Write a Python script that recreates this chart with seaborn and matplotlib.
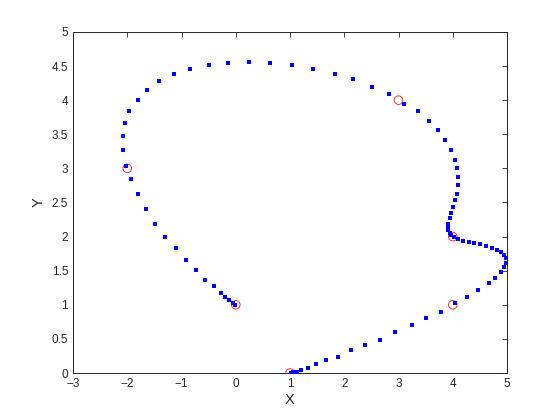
import numpy as np
import pandas as pd
import matplotlib
matplotlib.use('Agg')
import matplotlib.pyplot as plt
import seaborn as sns

# blue curve samples (from (0,1) round to (1,0))
curve_x = [-0.01, -0.06, -0.12, -0.19, -0.28, -0.41, -0.56, -0.73, -0.91, -1.10,
           -1.30, -1.48, -1.65, -1.80, -1.93, -2.02, -2.07, -2.07, -2.04, -1.96,
           -1.81, -1.63, -1.41, -1.13, -0.84, -0.49, -0.14, 0.25, 0.64, 1.04,
           1.43, 1.82, 2.17, 2.52, 2.83, 3.11, 3.35, 3.57, 3.73, 3.86,
           3.97, 4.05, 4.08, 4.10, 4.10, 4.08, 4.05, 4.01, 3.97, 3.95,
           3.92, 3.92, 3.92, 3.94, 3.97, 4.03, 4.10, 4.19, 4.29, 4.40,
           4.51, 4.62, 4.73, 4.82, 4.89, 4.95, 4.99, 4.99, 4.95, 4.89,
           4.78, 4.66, 4.47, 4.27, 4.05, 3.79, 3.51, 3.24, 2.94, 2.66,
           2.39, 2.13, 1.89, 1.67, 1.48, 1.34, 1.21, 1.13, 1.06, 1.01]
curve_y = [1.00, 1.03, 1.07, 1.11, 1.18, 1.27, 1.37, 1.51, 1.65, 1.83,
           2.00, 2.19, 2.40, 2.62, 2.84, 3.04, 3.27, 3.47, 3.66, 3.84,
           4.00, 4.15, 4.28, 4.38, 4.45, 4.51, 4.54, 4.56, 4.54, 4.51,
           4.45, 4.38, 4.31, 4.20, 4.09, 3.95, 3.84, 3.69, 3.56, 3.41,
           3.27, 3.13, 3.00, 2.87, 2.75, 2.63, 2.53, 2.43, 2.34, 2.27,
           2.19, 2.14, 2.09, 2.05, 2.02, 1.99, 1.96, 1.93, 1.92, 1.90,
           1.89, 1.86, 1.83, 1.80, 1.77, 1.73, 1.68, 1.62, 1.55, 1.48,
           1.40, 1.32, 1.21, 1.12, 1.02, 0.90, 0.80, 0.70, 0.60, 0.49,
           0.41, 0.33, 0.24, 0.19, 0.13, 0.08, 0.05, 0.02, 0.01, 0.00]

# red control points
pts_x = [0, -2, 3, 4, 4, 1]
pts_y = [1, 3, 4, 2, 1, 0]

curve = pd.DataFrame({'X': curve_x, 'Y': curve_y})
pts = pd.DataFrame({'X': pts_x, 'Y': pts_y})

sns.set_style('white')
plt.rcParams['font.family'] = ['Liberation Sans', 'DejaVu Sans']

fig = plt.figure(figsize=(5.6, 4.2), dpi=100)
ax = fig.add_axes([0.1304, 0.1119, 0.775, 0.812])

sns.scatterplot(data=pts, x='X', y='Y', ax=ax, marker='o', s=38,
                facecolor='none', edgecolor='#ff3030', linewidth=0.7, zorder=2)
sns.scatterplot(data=curve, x='X', y='Y', ax=ax, marker='s', s=6.5,
                color='#0000ff', linewidth=0, zorder=3)

ax.set_xlim(-3, 5)
ax.set_ylim(0, 5)
ax.set_xticks(np.arange(-3, 6, 1))
ax.set_yticks(np.arange(0, 5.5, 0.5))
ax.set_yticklabels(['0', '0.5', '1', '1.5', '2', '2.5', '3', '3.5', '4', '4.5', '5'])
ax.tick_params(direction='in', length=3.5, width=0.6, colors='#262626',
               labelsize=8.5, top=True, right=True)
for sp in ax.spines.values():
    sp.set_color('#262626')
    sp.set_linewidth(0.7)
ax.set_xlabel('X', fontsize=10.5, color='#262626', labelpad=2)
ax.set_ylabel('Y', fontsize=10.5, color='#262626', labelpad=4)

fig.savefig('out.png', dpi=100)
